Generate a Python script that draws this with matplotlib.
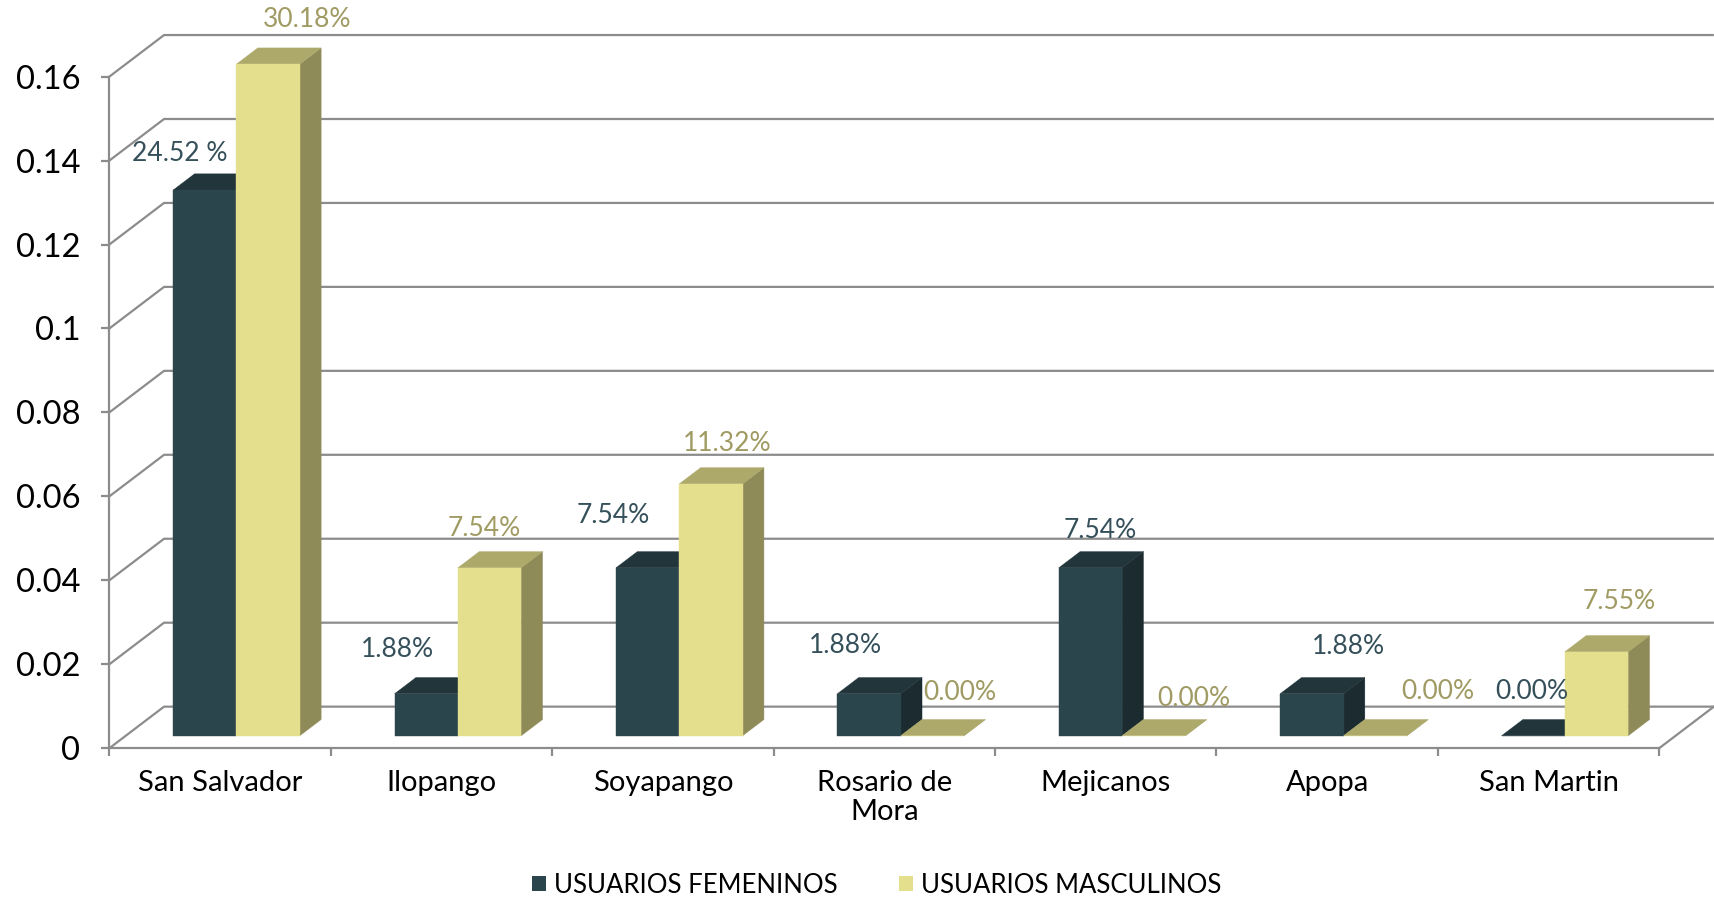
import numpy as np
import matplotlib.pyplot as plt
from matplotlib.patches import Polygon, Patch

plt.rcParams['font.family'] = ['Lato', 'DejaVu Sans']

# data
municipios = ['San Salvador', 'Ilopango', 'Soyapango', 'Rosario de\nMora',
              'Mejicanos', 'Apopa', 'San Martin']
femeninos = [0.13, 0.01, 0.04, 0.01, 0.04, 0.01, 0.0]
masculinos = [0.16, 0.04, 0.06, 0.0, 0.0, 0.0, 0.02]
etiq_fem = ['24.52 %', '1.88%', '7.54%', '1.88%', '7.54%', '1.88%', '0.00%']
etiq_masc = ['30.18%', '7.54%', '11.32%', '0.00%', '0.00%', '0.00%', '7.55%']
yticks = [0, 0.02, 0.04, 0.06, 0.08, 0.1, 0.12, 0.14, 0.16]
ytick_labels = ['0', '0.02', '0.04', '0.06', '0.08', '0.1', '0.12', '0.14', '0.16']

# label nudges in points (labels were dragged by hand in the original)
off_fem = [(-18, 26), (-21, 32), (-25, 38), (-17, 35), (7, 27), (26, 34), (-1, 32)]
off_masc = [(28, 32), (-4, 28), (12, 29), (20, 31), (29, 27), (45, 32), (16, 36)]

# colours
FEM = ('#2b454c', '#22353b', '#1c2b30')     # front, top, side
MASC = ('#e4df8c', '#ada96b', '#8f8b58')
FEM_TXT = '#35505a'
MASC_TXT = '#a09a63'
GRID = '#8c8c8c'

# 3d look: depth of floor, bar position/depth inside it
DX, DY = 0.247, 0.0099
F, D = 0.30, 0.39
W = 0.286

fig = plt.figure(figsize=(17.15, 8.97), dpi=100)
ax = fig.add_axes([0, 0, 1, 1])
ax.set_xlim(-0.994, 6.752)
ax.set_ylim(-0.03545, 0.17825)

n = len(municipios)
x_left, x_right = -0.5, n - 0.5

# walls / grid
for v in yticks:
    ax.plot([x_left, x_left + DX, x_right + DX], [v, v + DY, v + DY],
            color=GRID, lw=1.6, zorder=1, solid_capstyle='butt')
ax.plot([x_right, x_right + DX], [0, DY], color=GRID, lw=1.6, zorder=1)


def draw_bar(x0, h, cols):
    fx, fy = F * DX, F * DY
    bx, by = D * DX, D * DY
    xa, xb = x0 + fx, x0 + W + fx
    front = [(xa, fy), (xb, fy), (xb, fy + h), (xa, fy + h)]
    top = [(xa, fy + h), (xb, fy + h), (xb + bx, fy + h + by), (xa + bx, fy + h + by)]
    side = [(xb, fy), (xb + bx, fy + by), (xb + bx, fy + h + by), (xb, fy + h)]
    for pts, c in ((side, cols[2]), (top, cols[1]), (front, cols[0])):
        ax.add_patch(Polygon(pts, closed=True, facecolor=c, edgecolor=c, lw=0.3, zorder=3))
    return (xa + xb) / 2, fy + h


for i in range(n):
    cx, cy = draw_bar(i - W, femeninos[i], FEM)
    ax.annotate(etiq_fem[i], (cx, cy), xytext=off_fem[i], textcoords='offset points',
                ha='center', va='center', fontsize=19, color=FEM_TXT, zorder=5)
    cx, cy = draw_bar(i, masculinos[i], MASC)
    ax.annotate(etiq_masc[i], (cx, cy), xytext=off_masc[i], textcoords='offset points',
                ha='center', va='center', fontsize=19, color=MASC_TXT, zorder=5)

# axes
for s in ['top', 'right']:
    ax.spines[s].set_visible(False)
ax.spines['left'].set_position(('data', x_left))
ax.spines['left'].set_bounds(0, 0.16)
ax.spines['bottom'].set_position(('data', 0))
ax.spines['bottom'].set_bounds(x_left, x_right)
for s in ['left', 'bottom']:
    ax.spines[s].set_color(GRID)
    ax.spines[s].set_linewidth(1.6)
    ax.spines[s].set_zorder(2)

ax.set_yticks(yticks)
ax.set_yticklabels(ytick_labels)
ax.tick_params(axis='y', length=6, width=1.6, color=GRID, pad=15, labelsize=23.5, labelcolor='black')

ax.set_xticks(np.arange(n + 1) - 0.5)
ax.set_xticklabels([])
ax.set_xticks(np.arange(n), minor=True)
ax.set_xticklabels(municipios, minor=True, linespacing=1.1)
ax.tick_params(axis='x', which='major', length=6, width=1.6, color=GRID)
ax.tick_params(axis='x', which='minor', length=0, pad=16, labelsize=21, labelcolor='black')

handles = [Patch(facecolor=FEM[0], label='USUARIOS FEMENINOS'),
           Patch(facecolor=MASC[0], label='USUARIOS MASCULINOS')]
fig.legend(handles=handles, loc='center', bbox_to_anchor=(0.511, 0.013), ncol=2,
           frameon=False, fontsize=18.5, handlelength=0.55, handleheight=0.55,
           handletextpad=0.3, columnspacing=2.4)

fig.savefig('out.png', dpi=100)
